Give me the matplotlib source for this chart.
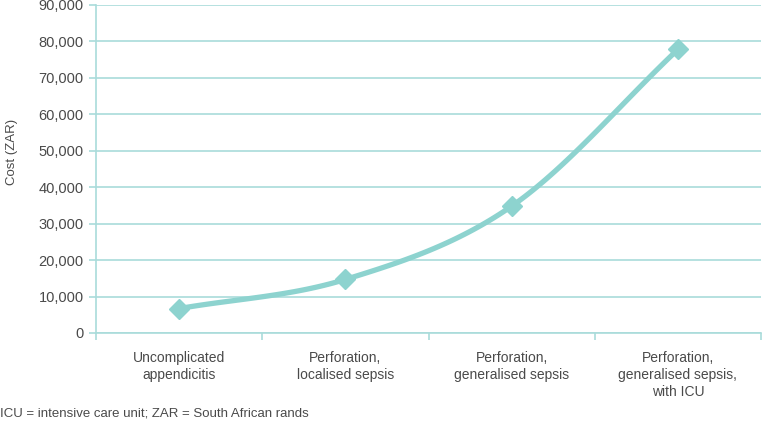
import numpy as np
import matplotlib.pyplot as plt
from matplotlib.ticker import FuncFormatter, FixedLocator

categories = ["Uncomplicated\nappendicitis",
              "Perforation,\nlocalised sepsis",
              "Perforation,\ngeneralised sepsis",
              "Perforation,\ngeneralised sepsis,\nwith ICU"]
costs = [6700, 14700, 34800, 77800]
y_ticks = list(range(0, 90001, 10000))

TEAL = "#8dd3cf"
GRID = "#a9dcda"
TEXT = "#4a4a4a"

plt.rcParams['font.family'] = ['Liberation Sans', 'DejaVu Sans']


def smooth(xs, ys, n=40):
    # Catmull-Rom style smoothing between the points (like a spreadsheet "smoothed line")
    xs = np.asarray(xs, float)
    ys = np.asarray(ys, float)
    px = np.concatenate([[2 * xs[0] - xs[1]], xs, [2 * xs[-1] - xs[-2]]])
    py = np.concatenate([[2 * ys[0] - ys[1]], ys, [2 * ys[-1] - ys[-2]]])
    ox, oy = [], []
    for i in range(1, len(px) - 2):
        t = np.linspace(0, 1, n)
        for p, out in ((px, ox), (py, oy)):
            p0, p1, p2, p3 = p[i - 1], p[i], p[i + 1], p[i + 2]
            out.extend(0.5 * ((2 * p1) + (-p0 + p2) * t
                              + (2 * p0 - 5 * p1 + 4 * p2 - p3) * t ** 2
                              + (-p0 + 3 * p1 - 3 * p2 + p3) * t ** 3))
    return np.array(ox), np.array(oy)


fig = plt.figure(figsize=(7.62, 4.24), dpi=100)
ax = fig.add_axes([96 / 762, (424 - 333) / 424, (761 - 96) / 762, 328 / 424])

x = np.arange(len(costs))
sx, sy = smooth(x, costs)
ax.plot(sx, sy, color=TEAL, lw=3.8, solid_capstyle='round', zorder=3)
ax.plot(x, costs, ls='none', marker='D', ms=10, color=TEAL, zorder=4)

ax.set_xlim(-0.5, len(costs) - 0.5)
ax.set_ylim(0, 90000)
ax.set_yticks(y_ticks)
ax.yaxis.set_major_formatter(FuncFormatter(lambda v, p: f"{int(v):,}"))
ax.grid(axis='y', color=GRID, lw=1.2, zorder=0)

ax.set_xticks(x)
ax.set_xticklabels(categories, linespacing=1.25)
ax.xaxis.set_minor_locator(FixedLocator(np.arange(-0.5, len(costs), 1.0)))
ax.tick_params(axis='x', which='major', length=0, pad=13, labelsize=10, labelcolor=TEXT)
ax.tick_params(axis='x', which='minor', length=5, width=1.2, color=GRID)
ax.tick_params(axis='y', length=5, width=1.2, color=GRID, labelsize=10.5,
               labelcolor=TEXT, pad=4)

for s in ['top', 'right']:
    ax.spines[s].set_visible(False)
for s in ['left', 'bottom']:
    ax.spines[s].set_color(GRID)
    ax.spines[s].set_linewidth(1.2)

fig.text(12 / 762, 1 - 152 / 424, "Cost (ZAR)", rotation=90, ha='center', va='center',
         fontsize=9.5, color=TEXT)
fig.text(0, 1 - 413 / 424, "ICU = intensive care unit; ZAR = South African rands",
         ha='left', va='center', fontsize=9.5, color=TEXT)

fig.savefig("out.png", dpi=100)
